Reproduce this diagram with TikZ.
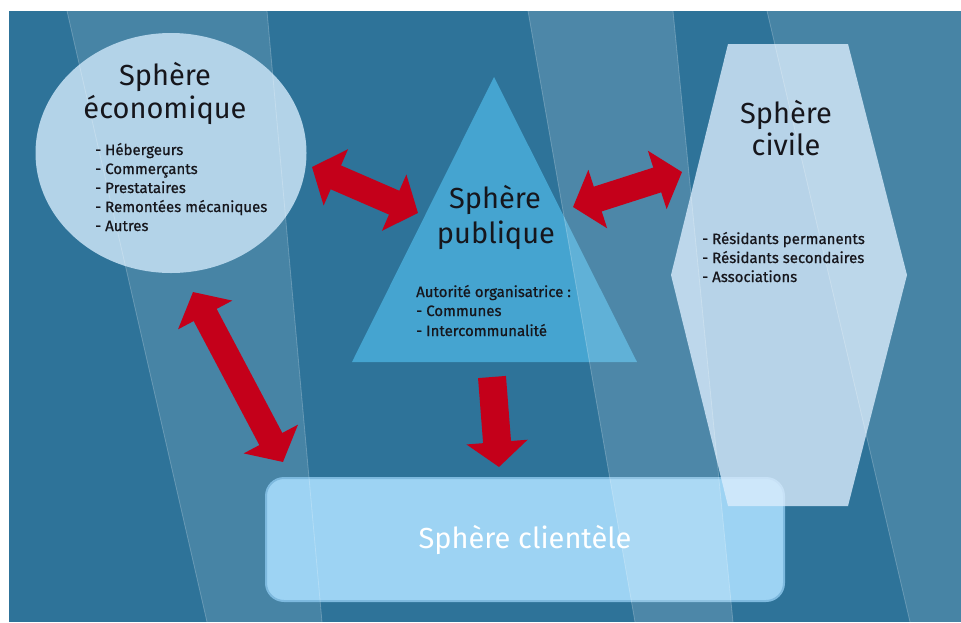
\documentclass[tikz,border=0pt]{standalone}
\usepackage{fontspec}
\setmainfont{Fira Sans}
\newfontfamily\itemfont{Fira Sans}[FakeBold=0.8]
\usetikzlibrary{shapes.geometric,arrows.meta}
\definecolor{bgdark}{RGB}{46,115,153}
\definecolor{ecofill}{RGB}{179,211,232}
\definecolor{pubfill}{RGB}{69,164,208}
\definecolor{civfill}{RGB}{218,236,252}
\definecolor{clifill}{RGB}{157,211,243}
\definecolor{cliedge}{RGB}{125,185,222}
\definecolor{redarrow}{RGB}{196,0,26}
\definecolor{textdark}{RGB}{22,22,28}
\begin{document}
\begin{tikzpicture}[x=1pt,y=-1pt,
  band/.style={fill=white,fill opacity=0.12,draw=none},
  bandtwo/.style={fill=white,fill opacity=0.15,draw=none},
  bandedge/.style={draw=white,draw opacity=0.22,line width=0.8pt},
  title/.style={font=\fontsize{29}{32}\selectfont,text=textdark,anchor=base,inner sep=0pt},
  item/.style={font=\itemfont\fontsize{15}{19}\selectfont,text=textdark,anchor=base west,inner sep=0pt},
  blockarrow/.style={draw=redarrow,line width=26pt,line cap=butt,
     {Triangle[length=26pt,width=60pt]}-{Triangle[length=26pt,width=60pt]}},
  downarrow/.style={draw=redarrow,line width=28pt,line cap=butt,
     -{Triangle[length=25pt,width=60pt]}}
]
\useasboundingbox (0,0) rectangle (961,622);
% background
\fill[bgdark] (9,11) rectangle (961,622);
% light bands 1 and 3
\path[band] (67,11) -- (267,11) -- (322,622) -- (207,622) -- cycle;
\path[band] (767,11) -- (961,11) -- (961,622) -- (910,622) -- cycle;
% economic sphere
\node[ellipse,fill=ecofill,minimum width=271pt,minimum height=240pt,inner sep=0pt] (eco) at (171,153) {};
% public sphere
\coordinate (pubA) at (494,77);
\coordinate (pubB) at (352,362);
\coordinate (pubC) at (637,362);
\fill[pubfill] (pubA) -- (pubB) -- (pubC) -- cycle;
% client sphere
\node[draw=cliedge,line width=2pt,fill=clifill,rounded corners=18pt,minimum width=518pt,minimum height=123pt,inner sep=0pt] (cli) at (525,539.5) {};
% light band 2 over triangle and box
\path[bandtwo] (528,11) -- (673,11) -- (733,622) -- (635,622) -- cycle;
% civil sphere
\fill[civfill,fill opacity=0.8] (728,44) -- (848,44) -- (907,275) -- (848,506) -- (728,506) -- (671,275) -- cycle;
% band edges
\draw[bandedge] (67,11) -- (207,622);
\draw[bandedge] (267,11) -- (322,622);
\draw[bandedge] (528,11) -- (635,622);
\draw[bandedge] (673,11) -- (733,622);
\draw[bandedge] (767,11) -- (910,622);
% arrows
\coordinate (a1s) at (312,167);
\coordinate (a1e) at (418,213);
\coordinate (a2s) at (573,207);
\coordinate (a2e) at (682,172);
\coordinate (a3s) at (193,292);
\coordinate (a3e) at (283,462);
\coordinate (a4s) at (492,377);
\coordinate (a4e) at (499,467);
\draw[blockarrow] (a1s) -- (a1e);
\draw[blockarrow] (a2s) -- (a2e);
\draw[blockarrow] (a3s) -- (a3e);
\draw[downarrow] (a4s) -- (a4e);
% texts: economic
\node[title] (ecoT1) at (165,85) {Sphère};
\node[title] (ecoT2) at (165,118) {économique};
\node[item] (ecoI1) at (95,155) {- Hébergeurs};
\node[item] (ecoI2) at (95,174) {- Commerçants};
\node[item] (ecoI3) at (95,193) {- Prestataires};
\node[item] (ecoI4) at (95,212) {- Remontées mécaniques};
\node[item] (ecoI5) at (95,231) {- Autres};
% texts: public
\node[title] (pubT1) at (495,208) {Sphère};
\node[title] (pubT2) at (496,243) {publique};
\node[item] (pubI1) at (416,297) {Autorité organisatrice :};
\node[item] (pubI2) at (416,316) {- Communes};
\node[item] (pubI3) at (416,336) {- Intercommunalité};
% texts: civil
\node[title] (civT1) at (786,123) {Sphère};
\node[title] (civT2) at (786,155) {civile};
\node[item] (civI1) at (702,244) {- Résidants permanents};
\node[item] (civI2) at (702,263) {- Résidants secondaires};
\node[item] (civI3) at (702,282) {- Associations};
% texts: client
\node[title,text=white] (cliT) at (525,548) {Sphère clientèle};
\end{tikzpicture}
\end{document}
